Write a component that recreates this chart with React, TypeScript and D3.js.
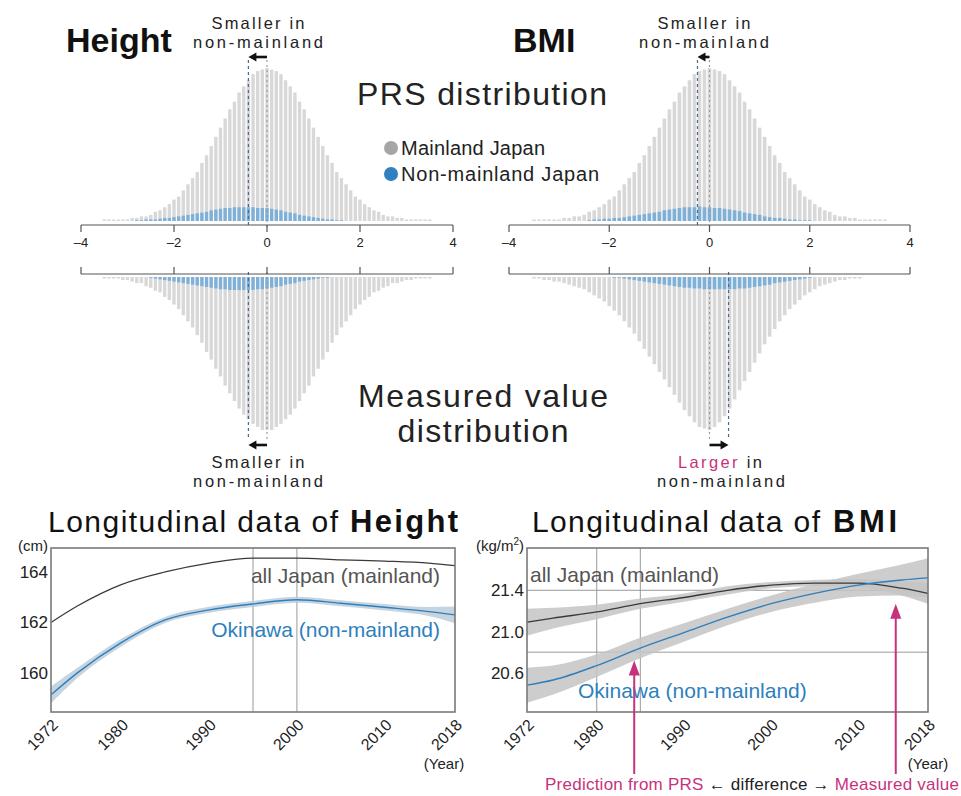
import React from 'react';
import * as d3 from 'd3';

const FONT = '"Liberation Sans", Arial, Helvetica, sans-serif';
const GRAY_BAR = '#d8d8d8';
const BLUE_BAR = '#7eb0d8';
const BLUE = '#2e7fbd';
const PINK = '#c7327c';
const TEXT = '#222';

// histogram bins: centres from -3.5 to 3.5, step 0.1 (71 bins)
const BIN_START = -3.5;
const BIN_W = 0.1;
const histTicks = [-4, -2, 0, 2, 4];

// relative bar heights (1 = tallest mainland bin)
const prsMainland = [
  0.01, 0.01, 0.01, 0.01, 0.01, 0.01, 0.02, 0.02, 0.03, 0.03, 0.04, 0.06, 0.07, 0.09, 0.11, 0.14, 0.16, 0.2,
  0.24, 0.28, 0.32, 0.38, 0.43, 0.49, 0.55, 0.61, 0.67, 0.73, 0.78, 0.84, 0.88, 0.92, 0.96, 0.98, 0.99, 1.0,
  0.99, 0.98, 0.96, 0.92, 0.88, 0.84, 0.78, 0.73, 0.67, 0.61, 0.55, 0.49, 0.43, 0.38, 0.32, 0.28, 0.24, 0.2,
  0.16, 0.14, 0.11, 0.09, 0.07, 0.06, 0.04, 0.03, 0.03, 0.02, 0.02, 0.01, 0.01, 0.01, 0.01, 0.01, 0.01,
];
const heightMeasuredMainland = [
  0.01, 0.01, 0.01, 0.01, 0.02, 0.02, 0.03, 0.04, 0.04, 0.06, 0.07, 0.09, 0.1, 0.13, 0.15, 0.18, 0.21, 0.25,
  0.29, 0.33, 0.38, 0.43, 0.49, 0.54, 0.6, 0.65, 0.71, 0.76, 0.81, 0.86, 0.9, 0.93, 0.96, 0.98, 1.0, 1.0,
  1.0, 0.98, 0.96, 0.93, 0.9, 0.86, 0.81, 0.76, 0.71, 0.65, 0.6, 0.54, 0.49, 0.43, 0.38, 0.33, 0.29, 0.25,
  0.21, 0.18, 0.15, 0.13, 0.1, 0.09, 0.07, 0.06, 0.04, 0.04, 0.03, 0.02, 0.02, 0.01, 0.01, 0.01, 0.01,
];
const bmiMeasuredMainland = [
  0.01, 0.01, 0.02, 0.02, 0.03, 0.03, 0.04, 0.05, 0.06, 0.07, 0.08, 0.1, 0.12, 0.14, 0.16, 0.19, 0.22, 0.25,
  0.29, 0.33, 0.37, 0.42, 0.47, 0.52, 0.57, 0.62, 0.67, 0.72, 0.77, 0.82, 0.87, 0.91, 0.95, 0.98, 0.99, 1.0,
  0.98, 0.95, 0.91, 0.86, 0.8, 0.74, 0.68, 0.62, 0.56, 0.5, 0.44, 0.39, 0.34, 0.29, 0.25, 0.21, 0.18, 0.15,
  0.12, 0.1, 0.08, 0.06, 0.05, 0.04, 0.03, 0.02, 0.02, 0.01, 0.01, 0.01, 0, 0, 0, 0, 0,
];
const heightPrsNonMainland = [
  0, 0, 0, 0, 0, 0, 0, 0.005, 0.005, 0.01, 0.01, 0.01, 0.015, 0.02, 0.02, 0.025, 0.03, 0.035,
  0.04, 0.045, 0.05, 0.055, 0.06, 0.07, 0.075, 0.08, 0.085, 0.085, 0.09, 0.09, 0.09, 0.09, 0.09, 0.085, 0.085, 0.085,
  0.08, 0.075, 0.07, 0.06, 0.055, 0.05, 0.04, 0.035, 0.03, 0.025, 0.02, 0.015, 0.01, 0.01, 0.005, 0.005, 0, 0,
  0, 0, 0, 0, 0, 0, 0, 0, 0, 0, 0, 0, 0, 0, 0, 0, 0,
];
const bmiPrsNonMainland = [
  0, 0, 0, 0, 0, 0, 0, 0, 0, 0, 0, 0.005, 0.01, 0.01, 0.015, 0.015, 0.02, 0.02,
  0.025, 0.03, 0.035, 0.04, 0.045, 0.05, 0.055, 0.06, 0.07, 0.075, 0.08, 0.085, 0.09, 0.09, 0.09, 0.095, 0.09, 0.09,
  0.085, 0.085, 0.08, 0.075, 0.07, 0.065, 0.055, 0.05, 0.045, 0.04, 0.03, 0.025, 0.02, 0.02, 0.015, 0.01, 0.01, 0.005,
  0.005, 0.005, 0, 0, 0, 0, 0, 0, 0, 0, 0, 0, 0, 0, 0, 0, 0,
];
const heightMeasuredNonMainland = [
  0, 0, 0, 0, 0, 0, 0, 0, 0, 0, 0.005, 0.01, 0.015, 0.02, 0.025, 0.03, 0.035, 0.04,
  0.045, 0.05, 0.055, 0.06, 0.065, 0.07, 0.075, 0.08, 0.08, 0.085, 0.085, 0.085, 0.085, 0.085, 0.085, 0.08, 0.08, 0.075,
  0.07, 0.065, 0.06, 0.05, 0.045, 0.04, 0.03, 0.025, 0.02, 0.015, 0.01, 0.005, 0.005, 0, 0, 0, 0, 0,
  0, 0, 0, 0, 0, 0, 0, 0, 0, 0, 0, 0, 0, 0, 0, 0, 0,
];
const bmiMeasuredNonMainland = [
  0, 0, 0, 0, 0, 0, 0, 0, 0, 0, 0, 0, 0, 0, 0, 0, 0.005, 0.005,
  0.01, 0.015, 0.02, 0.025, 0.03, 0.035, 0.04, 0.045, 0.05, 0.055, 0.06, 0.065, 0.07, 0.07, 0.075, 0.075, 0.08, 0.08,
  0.08, 0.08, 0.08, 0.08, 0.08, 0.075, 0.075, 0.07, 0.065, 0.06, 0.055, 0.05, 0.04, 0.035, 0.03, 0.025, 0.02, 0.015,
  0.01, 0.005, 0, 0, 0, 0, 0, 0, 0, 0, 0, 0, 0, 0, 0, 0, 0,
];
// mean of non-mainland group (mainland mean = 0)
const heightPrsShift = -0.4;
const bmiPrsShift = -0.24;
const heightMeasuredShift = -0.4;
const bmiMeasuredShift = 0.38;

// longitudinal data
const years = [1972, 1975, 1980, 1985, 1990, 1995, 2000, 2005, 2010, 2015, 2018];
const yearTicks = [1972, 1980, 1990, 2000, 2010, 2018];
const heightAllJapan = [162.0, 162.65, 163.5, 164.0, 164.35, 164.55, 164.55, 164.48, 164.43, 164.35, 164.25];
const heightOkinawa = [159.13, 160.0, 161.2, 162.1, 162.5, 162.73, 162.9, 162.76, 162.6, 162.43, 162.3];
const heightOkinawaCI = [0.33, 0.2, 0.15, 0.12, 0.12, 0.12, 0.12, 0.12, 0.13, 0.18, 0.33];
const heightTicks = [160, 162, 164];
const heightGridYears = [1995, 2000];

const bmiAllJapan = [21.09, 21.13, 21.19, 21.27, 21.33, 21.4, 21.45, 21.47, 21.47, 21.42, 21.37];
const bmiAllJapanCI = [0.13, 0.1, 0.07, 0.05, 0.04, 0.04, 0.03, 0.03, 0.04, 0.07, 0.1];
const bmiOkinawa = [20.48, 20.53, 20.67, 20.84, 20.99, 21.14, 21.27, 21.37, 21.45, 21.5, 21.52];
const bmiOkinawaCI = [0.17, 0.14, 0.11, 0.1, 0.09, 0.08, 0.08, 0.09, 0.11, 0.15, 0.19];
const bmiTicks = [20.6, 21.0, 21.4];
const bmiGridYears = [1980, 1985];
const bmiGridValues = [20.8, 21.4];
// pink arrows: [year, value at arrow tip]
const prsArrow = [1984.3, 20.72];
const measuredArrow = [2014.3, 21.27];

function Arrow({ x1, x2, y }) {
  const d = x2 < x1 ? -1 : 1;
  return (
    <g>
      <line x1={x1} x2={x2 - d * 6} y1={y} y2={y} stroke="#111" strokeWidth={2.6} />
      <polygon points={`${x2},${y} ${x2 - d * 8},${y - 4.5} ${x2 - d * 8},${y + 4.5}`} fill="#111" />
    </g>
  );
}

function Histogram({ x0, x1, top, mainland, nonMainland, shift }) {
  const x = d3.scaleLinear().domain([-4, 4]).range([x0, x1]);
  const h = d3.scaleLinear().domain([0, 1]).range([0, 153]);
  const step = x(BIN_W) - x(0);
  const bw = step * 0.72;
  const base = top ? 221 : 277;
  const axisY = top ? 225 : 274;
  const barY = (v) => (top ? base - h(v) : base);
  const dashTop = top ? 60 : 272;
  const dashBot = top ? 228 : 440;
  return (
    <g>
      {mainland.map((v, i) => {
        const c = BIN_START + i * BIN_W;
        return <rect key={'m' + i} x={x(c) - bw / 2} y={barY(v)} width={bw} height={h(v)} fill={GRAY_BAR} />;
      })}
      {nonMainland.map((v, i) => {
        const c = BIN_START + i * BIN_W;
        return v > 0 ? (
          <rect key={'n' + i} x={x(c) - bw / 2} y={barY(v)} width={bw} height={h(v)} fill={BLUE_BAR} />
        ) : null;
      })}
      <line x1={x(0)} x2={x(0)} y1={dashTop} y2={dashBot} stroke="#9a9a9a" strokeWidth={1.2} strokeDasharray="2,3" />
      <line x1={x(shift)} x2={x(shift)} y1={dashTop} y2={dashBot} stroke="#4d6a86" strokeWidth={1.2} strokeDasharray="3,3" />
      <line x1={x0} x2={x1} y1={axisY} y2={axisY} stroke="#555" strokeWidth={1.2} />
      {histTicks.map((t) => (
        <g key={t}>
          <line x1={x(t)} x2={x(t)} y1={axisY} y2={top ? axisY + 7 : axisY - 7} stroke="#555" strokeWidth={1.2} />
          {top && (
            <text x={x(t)} y={247} textAnchor="middle" fontSize={13} fill={TEXT}>
              {d3.format('d')(t).replace(/[-\u2212]/, '\u2013')}
            </text>
          )}
        </g>
      ))}
      <Arrow x1={x(0)} x2={x(shift)} y={top ? 57 : 445} />
    </g>
  );
}

function LineChart({ x0, x1, yDomain, ticks, tickFmt, unit, allJapan, allJapanCI, okinawa, okinawaCI, bandColor, gridYears, gridValues, labelAllX, labelAllY, labelOkiX, labelOkiY, anchor, yearX, children }) {
  const y0 = 548;
  const y1 = 712;
  const x = d3.scaleLinear().domain([1972, 2018]).range([x0, x1]);
  const y = d3.scaleLinear().domain(yDomain).range([y1, y0]);
  const pts = (vals) => years.map((yr, i) => [yr, vals[i]]);
  const line = d3.line().x((d) => x(d[0])).y((d) => y(d[1])).curve(d3.curveMonotoneX);
  const area = (vals, ci) =>
    d3
      .area()
      .x((d) => x(d[0]))
      .y0((d) => y(d[1] - d[2]))
      .y1((d) => y(d[1] + d[2]))
      .curve(d3.curveMonotoneX)(years.map((yr, i) => [yr, vals[i], ci[i]]));
  const clipId = 'clip' + x0;
  return (
    <g>
      <defs>
        <clipPath id={clipId}>
          <rect x={x0} y={y0} width={x1 - x0} height={y1 - y0} />
        </clipPath>
      </defs>
      {gridYears.map((g) => (
        <line key={'gx' + g} x1={x(g)} x2={x(g)} y1={y0} y2={y1} stroke="#9a9a9a" strokeWidth={1} />
      ))}
      {gridValues.map((g) => (
        <line key={'gy' + g} x1={x0} x2={x1} y1={y(g)} y2={y(g)} stroke="#9a9a9a" strokeWidth={1} />
      ))}
      <g clipPath={`url(#${clipId})`}>
        {allJapanCI && <path d={area(allJapan, allJapanCI)} fill={bandColor} opacity={0.85} />}
        <path d={area(okinawa, okinawaCI)} fill={bandColor} opacity={0.85} />
        <path d={line(pts(allJapan))} fill="none" stroke="#3a3a3a" strokeWidth={1.3} />
        <path d={line(pts(okinawa))} fill="none" stroke={BLUE} strokeWidth={1.4} />
      </g>
      <rect x={x0} y={y0} width={x1 - x0} height={y1 - y0} fill="none" stroke="#7a7a7a" strokeWidth={1.6} />
      {ticks.map((t) => (
        <text key={t} x={x0 - 3} y={y(t) + 6} textAnchor="end" fontSize={17} fill={TEXT}>
          {d3.format(tickFmt)(t)}
        </text>
      ))}
      {yearTicks.map((t) => (
        <text key={t} transform={`translate(${x(t) + 8},${y1 + 14}) rotate(-45)`} textAnchor="end" fontSize={16} fill={TEXT}>
          {t}
        </text>
      ))}
      <text x={x0 - 3} y={551} textAnchor="end" fontSize={15} fill={TEXT}>
        {unit}
      </text>
      <text x={yearX} y={769} textAnchor="middle" fontSize={15} fill={TEXT}>
        (Year)
      </text>
      <text x={labelAllX} y={labelAllY} textAnchor={anchor} fontSize={21} fill="#555">
        all Japan (mainland)
      </text>
      <text x={labelOkiX} y={labelOkiY} textAnchor={anchor} fontSize={21} fill={BLUE}>
        Okinawa (non-mainland)
      </text>
      {children && children(x, y)}
    </g>
  );
}

function PinkArrow({ x, tip, bottom }) {
  return (
    <g>
      <line x1={x} x2={x} y1={bottom} y2={tip + 12} stroke={PINK} strokeWidth={2} />
      <polygon points={`${x},${tip} ${x - 5.5},${tip + 15} ${x + 5.5},${tip + 15}`} fill={PINK} />
    </g>
  );
}

export default function App() {
  return (
    <svg
      width={961}
      height={796}
      style={{ position: 'absolute', left: 0, top: 0, background: '#fff' }}
      fontFamily={FONT}
    >
      {/* top titles */}
      <text x={66} y={52} fontSize={34} fontWeight="bold" fill="#111">Height</text>
      <text x={513} y={52} fontSize={34} fontWeight="bold" fill="#111">BMI</text>
      <g fontSize={16.5} fill={TEXT} textAnchor="middle">
        <text x={258} y={29} textLength={93}>Smaller in</text>
        <text x={258} y={48} textLength={130}>non-mainland</text>
        <text x={704} y={29} textLength={93}>Smaller in</text>
        <text x={704} y={48} textLength={130}>non-mainland</text>
        <text x={258} y={468} textLength={93}>Smaller in</text>
        <text x={258} y={487} textLength={130}>non-mainland</text>
        <text x={720} y={468} textLength={84}>
          <tspan fill={PINK}>Larger</tspan> in
        </text>
        <text x={721} y={487} textLength={128}>non-mainland</text>
      </g>
      <text x={482} y={105} fontSize={32} fill={TEXT} textAnchor="middle" textLength={250}>PRS distribution</text>
      <text x={483} y={407} fontSize={32} fill={TEXT} textAnchor="middle" textLength={250}>Measured value</text>
      <text x={483} y={442} fontSize={32} fill={TEXT} textAnchor="middle" textLength={171}>distribution</text>

      {/* legend */}
      <circle cx={391} cy={148} r={7} fill="#a6a6a6" />
      <text x={401} y={155} fontSize={20} fill={TEXT} textLength={144}>Mainland Japan</text>
      <circle cx={391} cy={174} r={7} fill="#2f7fc1" />
      <text x={401} y={181} fontSize={20} fill={TEXT} textLength={198}>Non-mainland Japan</text>

      {/* distributions */}
      <Histogram x0={81} x1={453} top mainland={prsMainland} nonMainland={heightPrsNonMainland} shift={heightPrsShift} />
      <Histogram x0={509} x1={910} top mainland={prsMainland} nonMainland={bmiPrsNonMainland} shift={bmiPrsShift} />
      <Histogram x0={81} x1={453} top={false} mainland={heightMeasuredMainland} nonMainland={heightMeasuredNonMainland} shift={heightMeasuredShift} />
      <Histogram x0={509} x1={910} top={false} mainland={bmiMeasuredMainland} nonMainland={bmiMeasuredNonMainland} shift={bmiMeasuredShift} />

      {/* longitudinal titles */}
      <text x={48} y={532} fontSize={30} fill="#111" textLength={290}>Longitudinal data of</text>
      <text x={350} y={532} fontSize={31} fontWeight="bold" fill="#111" textLength={108}>Height</text>
      <text x={532} y={532} fontSize={30} fill="#111" textLength={288}>Longitudinal data of</text>
      <text x={833} y={532} fontSize={31} fontWeight="bold" fill="#111" textLength={64}>BMI</text>

      <LineChart
        x0={51}
        x1={455}
        yDomain={[158.45, 164.95]}
        ticks={heightTicks}
        tickFmt="d"
        unit="(cm)"
        allJapan={heightAllJapan}
        allJapanCI={null}
        okinawa={heightOkinawa}
        okinawaCI={heightOkinawaCI}
        bandColor="#bccdda"
        gridYears={heightGridYears}
        gridValues={[]}
        labelAllX={440}
        labelAllY={583}
        labelOkiX={440}
        labelOkiY={637}
        anchor="end"
        yearX={444}
      />
      <LineChart
        x0={527}
        x1={928}
        yDomain={[20.22, 21.81]}
        ticks={bmiTicks}
        tickFmt=".1f"
        unit={
          <>
            (kg/m<tspan fontSize={10} dy={-6}>2</tspan>
            <tspan dy={6}>)</tspan>
          </>
        }
        allJapan={bmiAllJapan}
        allJapanCI={bmiAllJapanCI}
        okinawa={bmiOkinawa}
        okinawaCI={bmiOkinawaCI}
        bandColor="#c4c4c4"
        gridYears={bmiGridYears}
        gridValues={bmiGridValues}
        labelAllX={530}
        labelAllY={582}
        labelOkiX={578}
        labelOkiY={698}
        anchor="start"
        yearX={928}
      >
        {(x, y) => (
          <g>
            <PinkArrow x={x(prsArrow[0])} tip={y(prsArrow[1])} bottom={774} />
            <PinkArrow x={x(measuredArrow[0])} tip={y(measuredArrow[1])} bottom={774} />
          </g>
        )}
      </LineChart>

      <text x={545} y={790} fontSize={17} fill={TEXT} textLength={414}>
        <tspan fill={PINK}>Prediction from PRS</tspan> {'\u2190'} difference {'\u2192'}{' '}
        <tspan fill={PINK}>Measured value</tspan>
      </text>
    </svg>
  );
}
